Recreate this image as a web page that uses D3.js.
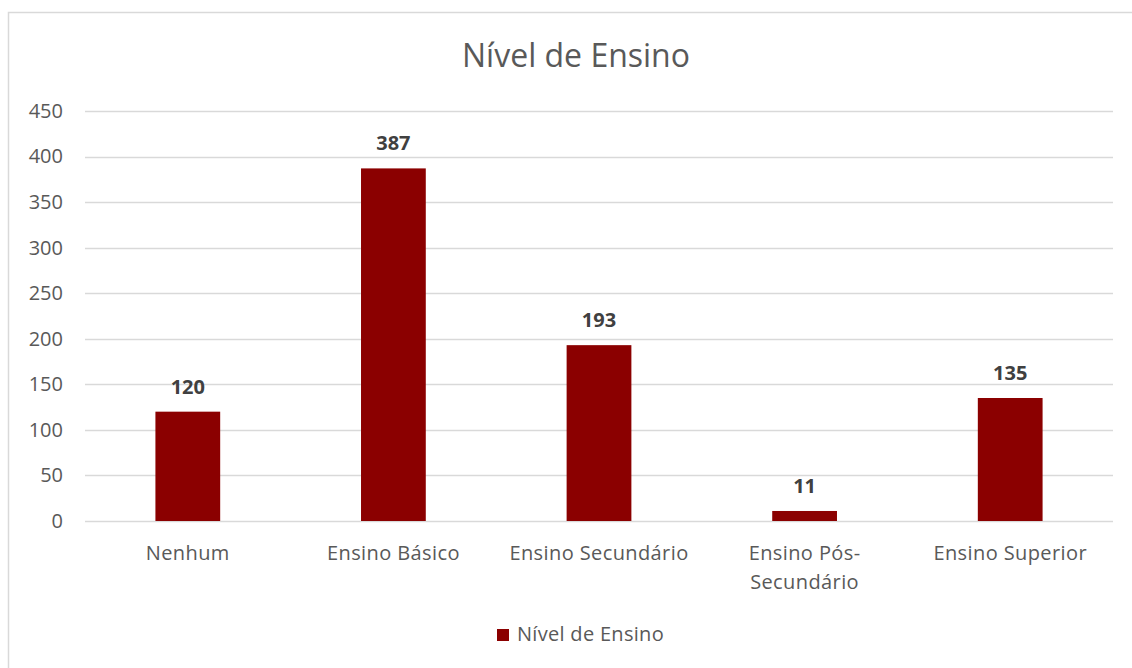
<!DOCTYPE html>
<html>
<head>
<meta charset="utf-8">
<script src="https://cdn.jsdelivr.net/npm/d3@7"></script>
<style>
  body { margin: 0; background: #fff; }
  svg { font-family: "Open Sans", "Noto Sans", sans-serif; }
</style>
</head>
<body>
<div id="chart"></div>
<script>
const categories = ['Nenhum', 'Ensino Básico', 'Ensino Secundário', 'Ensino Pós-Secundário', 'Ensino Superior'];
const values = [120, 387, 193, 11, 135];
const yTicks = [0, 50, 100, 150, 200, 250, 300, 350, 400, 450];
const seriesName = 'Nível de Ensino';

const width = 1132, height = 668;
const margin = { top: 111, right: 19, bottom: 147, left: 85 };

const svg = d3.select('#chart')
              .append('svg')
              .attr('width', width)
              .attr('height', height);

// chart frame
svg.append('rect')
   .attr('x', 8.5).attr('y', 12.5)
   .attr('width', 1140).attr('height', 700)
   .attr('fill', 'none')
   .attr('stroke', '#d9d9d9')
   .attr('stroke-width', 1.5);

const x = d3.scaleBand()
            .domain(categories)
            .range([margin.left, width - margin.right])
            .paddingInner(0.685)
            .paddingOuter(0.3425);

const y = d3.scaleLinear()
            .domain([0, 450])
            .range([height - margin.bottom, margin.top]);

// gridlines
svg.append('g')
   .selectAll('line')
   .data(yTicks)
   .enter()
   .append('line')
   .attr('x1', margin.left)
   .attr('x2', width - margin.right)
   .attr('y1', d => Math.round(y(d)) + 0.5)
   .attr('y2', d => Math.round(y(d)) + 0.5)
   .attr('stroke', '#d9d9d9')
   .attr('stroke-width', 1.5);

// y axis labels
const yAxis = d3.axisLeft(y).tickValues(yTicks).tickSize(0).tickPadding(0);
svg.append('g')
   .attr('transform', `translate(${margin.left - 22},0)`)
   .call(yAxis)
   .call(g => g.select('.domain').remove())
   .selectAll('text')
   .attr('font-family', '"Open Sans", sans-serif')
   .attr('font-size', 20)
   .attr('fill', '#595959');

// bars
svg.selectAll('rect.bar')
   .data(values)
   .enter()
   .append('rect')
   .attr('class', 'bar')
   .attr('x', (d, i) => x(categories[i]))
   .attr('y', d => y(d))
   .attr('width', x.bandwidth())
   .attr('height', d => y(0) - y(d))
   .attr('fill', '#8b0000');

// data labels
svg.selectAll('text.val')
   .data(values)
   .enter()
   .append('text')
   .attr('class', 'val')
   .attr('x', (d, i) => x(categories[i]) + x.bandwidth() / 2)
   .attr('y', d => y(d) - 18)
   .attr('text-anchor', 'middle')
   .attr('font-size', 20)
   .attr('font-weight', 'bold')
   .attr('fill', '#404040')
   .text(d => d);

// category labels (wrapped like Excel)
const catLines = {
  'Ensino Pós-Secundário': ['Ensino Pós-', 'Secundário']
};
const xl = svg.append('g');
categories.forEach(c => {
  const lines = catLines[c] || [c];
  const t = xl.append('text')
              .attr('x', x(c) + x.bandwidth() / 2)
              .attr('y', height - margin.bottom + 39)
              .attr('text-anchor', 'middle')
              .attr('font-size', 20)
              .attr('letter-spacing', 0.4)
              .attr('fill', '#595959');
  lines.forEach((l, i) => {
    t.append('tspan')
     .attr('x', x(c) + x.bandwidth() / 2)
     .attr('dy', i === 0 ? 0 : 29)
     .text(l);
  });
});

// title
svg.append('text')
   .attr('x', 576)
   .attr('y', 67)
   .attr('text-anchor', 'middle')
   .attr('font-size', 32)
   .attr('fill', '#595959')
   .text(seriesName);

// legend
const legend = svg.append('g').attr('transform', 'translate(497,629)');
legend.append('rect')
      .attr('width', 12).attr('height', 12)
      .attr('fill', '#8b0000');
legend.append('text')
      .attr('x', 20).attr('y', 12)
      .attr('font-size', 20)
      .attr('letter-spacing', 0.3)
      .attr('fill', '#595959')
      .text(seriesName);
</script>
</body>
</html>
